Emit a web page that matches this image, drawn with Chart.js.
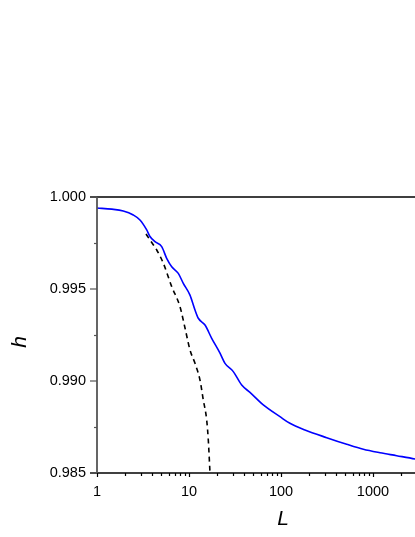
<!DOCTYPE html>
<html>
<head>
<meta charset="utf-8">
<script src="https://cdn.jsdelivr.net/npm/chart.js@4/dist/chart.umd.min.js"></script>
<style>
  html, body { margin: 0; padding: 0; background: #fff; overflow: hidden; width: 415px; height: 537px; }
  canvas { display: block; }
</style>
</head>
<body>
<canvas id="chart" width="480" height="537"></canvas>
<script>
// blue curve: h vs L
const blueL = [1, 1.45, 1.93, 2.48, 2.93, 3.47, 3.75, 4.27, 5.05, 5.72, 6.49, 7.65, 8.67, 10.25, 11.62, 12.62, 14.93, 17.65, 21.73, 24.62, 30.3, 37.4, 46.0, 64.2, 97.5, 125, 182, 314, 518, 785, 1192, 1809, 2861, 4000];
const blueH = [0.99940, 0.99934, 0.99924, 0.99902, 0.99875, 0.99821, 0.99787, 0.99757, 0.99730, 0.99667, 0.99621, 0.99585, 0.99531, 0.99467, 0.99386, 0.99341, 0.99304, 0.99232, 0.99151, 0.99096, 0.99051, 0.98978, 0.98938, 0.98870, 0.98806, 0.98770, 0.98734, 0.98692, 0.98656, 0.98629, 0.98610, 0.98594, 0.98576, 0.98560];

// dashed curve
const dashL = [3.41, 3.77, 4.46, 5.26, 6.49, 7.98, 9.05, 10.25, 11.62, 13.17, 14.3, 15.57, 16.21, 16.92];
const dashH = [0.99799, 0.99766, 0.99712, 0.99640, 0.99513, 0.99404, 0.99288, 0.99169, 0.99096, 0.99005, 0.98897, 0.98788, 0.98679, 0.98500];

const xLabels = [1, 10, 100, 1000];
const yTicks = [0.985, 0.990, 0.995, 1.000];
const yMinor = [0.9875, 0.9925, 0.9975];

const FONT = '"Liberation Sans", Arial, sans-serif';

const axesPlugin = {
  id: 'axesPlugin',
  afterDraw(chart) {
    const ctx = chart.ctx;
    const a = chart.chartArea;
    const xs = chart.scales.x;
    const ys = chart.scales.y;
    ctx.save();
    // top & right border
    ctx.strokeStyle = '#000';
    ctx.lineWidth = 1.6;
    ctx.beginPath();
    ctx.moveTo(a.left - 7, a.top);
    ctx.lineTo(a.right, a.top);
    ctx.lineTo(a.right, a.bottom);
    ctx.stroke();
    // bottom axis
    ctx.beginPath();
    ctx.moveTo(a.left - 7, a.bottom);
    ctx.lineTo(a.right, a.bottom);
    ctx.stroke();
    // x ticks
    ctx.lineWidth = 1.2;
    for (let d = 1; d <= 1000; d *= 10) {
      for (let k = 1; k <= 9; k++) {
        const px = Math.round(xs.getPixelForValue(d * k)) + 0.5;
        const len = k === 1 ? 4 : 3;
        ctx.beginPath();
        ctx.moveTo(px, a.bottom);
        ctx.lineTo(px, a.bottom + len);
        ctx.stroke();
      }
    }
    // left axis (grey)
    ctx.strokeStyle = '#555';
    ctx.lineWidth = 1.8;
    ctx.beginPath();
    ctx.moveTo(a.left, a.top);
    ctx.lineTo(a.left, a.bottom);
    ctx.stroke();
    // y ticks
    ctx.lineWidth = 1.2;
    yTicks.forEach(v => {
      const py = ys.getPixelForValue(v);
      ctx.beginPath();
      ctx.moveTo(a.left - 7, py);
      ctx.lineTo(a.left, py);
      ctx.stroke();
    });
    yMinor.forEach(v => {
      const py = Math.round(ys.getPixelForValue(v)) + 0.5;
      ctx.beginPath();
      ctx.moveTo(a.left - 3, py);
      ctx.lineTo(a.left, py);
      ctx.stroke();
    });
    // axis titles
    ctx.fillStyle = '#000';
    ctx.font = 'italic 21px ' + FONT;
    ctx.textAlign = 'center';
    ctx.textBaseline = 'alphabetic';
    ctx.fillText('L', 283, 525);
    ctx.translate(26, 342);
    ctx.rotate(-Math.PI / 2);
    ctx.fillText('h', 0, 0);
    ctx.restore();
  }
};

new Chart(document.getElementById('chart'), {
  type: 'line',
  data: {
    datasets: [
      {
        data: blueL.map((l, i) => ({ x: l, y: blueH[i] })),
        borderColor: '#0000ff',
        borderWidth: 1.6,
        pointRadius: 0,
        cubicInterpolationMode: 'monotone',
        fill: false
      },
      {
        data: dashL.map((l, i) => ({ x: l, y: dashH[i] })),
        borderColor: '#000',
        borderWidth: 1.6,
        borderDash: [5, 4],
        pointRadius: 0,
        cubicInterpolationMode: 'monotone',
        fill: false
      }
    ]
  },
  options: {
    responsive: false,
    animation: false,
    layout: { padding: { top: 197, right: 15, left: 0, bottom: 0 } },
    plugins: {
      legend: { display: false },
      tooltip: { enabled: false }
    },
    scales: {
      x: {
        type: 'logarithmic',
        min: 1,
        max: 10000,
        grid: { display: false, drawTicks: false },
        border: { display: false },
        afterFit(scale) { scale.height = 64; },
        ticks: {
          autoSkip: false,
          maxRotation: 0,
          padding: 10,
          color: '#000',
          font: { family: FONT, size: 14.5 },
          callback(value) {
            return xLabels.includes(value) ? String(value) : '';
          }
        }
      },
      y: {
        min: 0.985,
        max: 1.0,
        grid: { display: false, drawTicks: false },
        border: { display: false },
        afterFit(scale) { scale.width = 97; },
        afterBuildTicks(scale) {
          scale.ticks = yTicks.map(v => ({ value: v }));
        },
        ticks: {
          padding: 11,
          color: '#000',
          font: { family: FONT, size: 14.5 },
          callback(value) { return value.toFixed(3); }
        }
      }
    }
  },
  plugins: [axesPlugin]
});
</script>
</body>
</html>
